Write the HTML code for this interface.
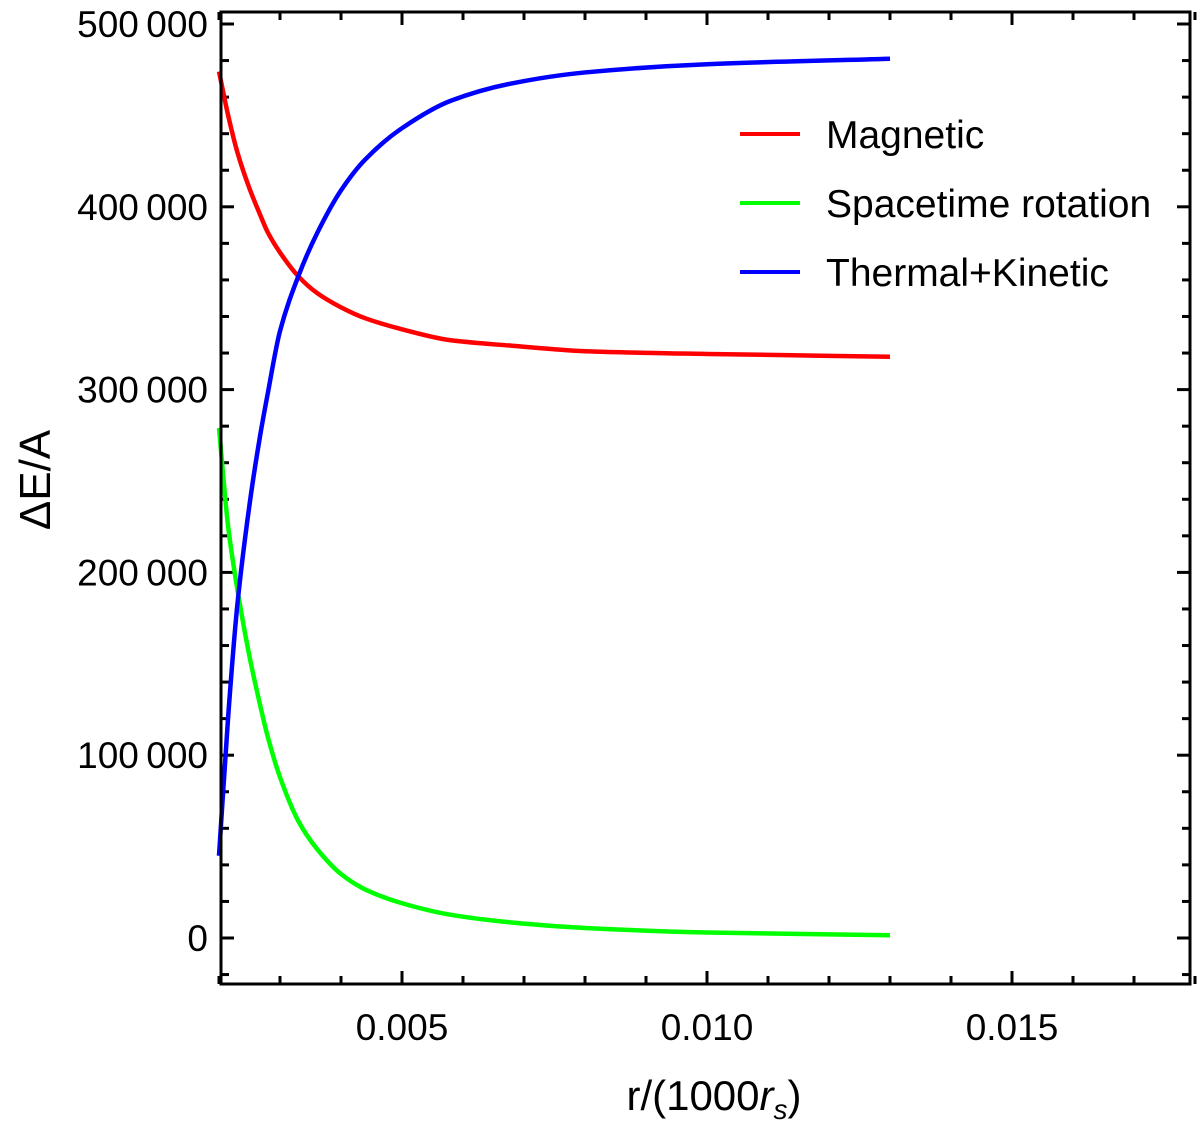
<!DOCTYPE html>
<html><head><meta charset="utf-8"><style>
body{margin:0;background:#fff}
svg{display:block;font-family:"Liberation Sans",Arial,sans-serif}
</style></head><body>
<svg id="chart" width="1200" height="1121">
<g id="ticks"></g><g id="series"></g>
<rect x="221" y="12" width="969" height="972" fill="none" stroke="#000" stroke-width="3"/>
<text x="50" y="480" font-size="44" text-anchor="middle" transform="rotate(-90 50 480)">ΔE/A</text>
<text x="714" y="1110" font-size="42" text-anchor="middle">r/(1000<tspan font-style="italic">r</tspan><tspan font-style="italic" font-size="28" dy="9">s</tspan><tspan dy="-9">)</tspan></text>
<g>
<g><line x1="740" y1="134" x2="800" y2="134" stroke="#f00" stroke-width="4"/><text x="826" y="148" font-size="39">Magnetic</text></g>
<g><line x1="740" y1="203" x2="800" y2="203" stroke="#0f0" stroke-width="4"/><text x="826" y="217" font-size="39">Spacetime rotation</text></g>
<g><line x1="740" y1="272" x2="800" y2="272" stroke="#00f" stroke-width="4"/><text x="826" y="286" font-size="39">Thermal+Kinetic</text></g>
</g>
</svg>
<script>
const xs = [0.002,0.00215,0.0023,0.0025,0.00267,0.0028,0.003,0.0033,0.0036,0.004,0.0044,0.005,0.0058,0.0068,0.008,0.010,0.013];
const magnetic = [474000,450000,430000,410000,396000,386000,375000,362000,353000,345000,339000,333000,327000,324000,321000,319500,318000];
const spacetime = [279000,225000,191000,154000,128000,110000,88000,64000,49000,35000,26500,19000,12700,8500,5500,3000,1500];
const thermal = [45000,121000,182000,237000,274000,298000,332000,362000,385000,409000,426000,443000,458000,467500,473500,478000,481000];
const xTicks = [0.005,0.010,0.015];
const xTickLabels = ["0.005","0.010","0.015"];
const yTicks = [0,100000,200000,300000,400000,500000];
const yTickLabels = ["0","100\u2009000","200\u2009000","300\u2009000","400\u2009000","500\u2009000"];
const NS="http://www.w3.org/2000/svg";
const X = v => 402 + (v-0.005)*61000;
const Y = v => 938 - v*0.001828;
const tg=document.getElementById('ticks'), sg=document.getElementById('series');
function mk(t,a,p){const e=document.createElementNS(NS,t);for(const k in a)e.setAttribute(k,a[k]);p.appendChild(e);return e;}
for(let i=2;i<=18;i++){const x=X(i/1000);const maj=i%5===0;
 const l1=mk('line',{x1:x,x2:x,y1:984,y2:984-(maj?13:8),stroke:'#000','stroke-width':3},tg);
 
 
 const l2=mk('line',{x1:x,x2:x,y1:12,y2:12+(maj?13:8),stroke:'#000','stroke-width':3},tg);
 
 }
for(let v=-20000;v<=500000;v+=20000){const y=Y(v);const maj=v%100000===0;
 const l1=mk('line',{x1:221,x2:221+(maj?13:8),y1:y,y2:y,stroke:'#000','stroke-width':3},tg);
 
 
 const l2=mk('line',{x1:1190,x2:1190-(maj?13:8),y1:y,y2:y,stroke:'#000','stroke-width':3},tg);
 
 }
xTicks.forEach((v,i)=>{const t=mk('text',{x:X(v),y:1040,'font-size':37,'text-anchor':'middle'},tg);t.textContent=xTickLabels[i];
 
 });
yTicks.forEach((v,i)=>{const t=mk('text',{x:208,y:Y(v)+13,'font-size':37,'text-anchor':'end'},tg);t.textContent=yTickLabels[i];
 
 });
function path(vals){
 const px=xs.map(X), py=vals.map(Y), n=px.length;
 const d=[],m=new Array(n);
 for(let i=0;i<n-1;i++)d.push((py[i+1]-py[i])/(px[i+1]-px[i]));
 m[0]=d[0];m[n-1]=d[n-2];
 for(let i=1;i<n-1;i++){m[i]=(d[i-1]*d[i]<=0)?0:(2/(1/d[i-1]+1/d[i]));}
 let s='M'+px[0]+','+py[0];
 for(let i=0;i<n-1;i++){const h=px[i+1]-px[i];
  s+=` C${px[i]+h/3},${py[i]+m[i]*h/3} ${px[i+1]-h/3},${py[i+1]-m[i+1]*h/3} ${px[i+1]},${py[i+1]}`;}
 return s;}
[[magnetic,'#f00','magnetic-line'],[spacetime,'#0f0','spacetime-rotation-line'],[thermal,'#00f','thermal-kinetic-line']].forEach(s=>{
 const e=mk('path',{d:path(s[0]),fill:'none',stroke:s[1],'stroke-width':4.5},sg);
 
 });
</script>
</body></html>
